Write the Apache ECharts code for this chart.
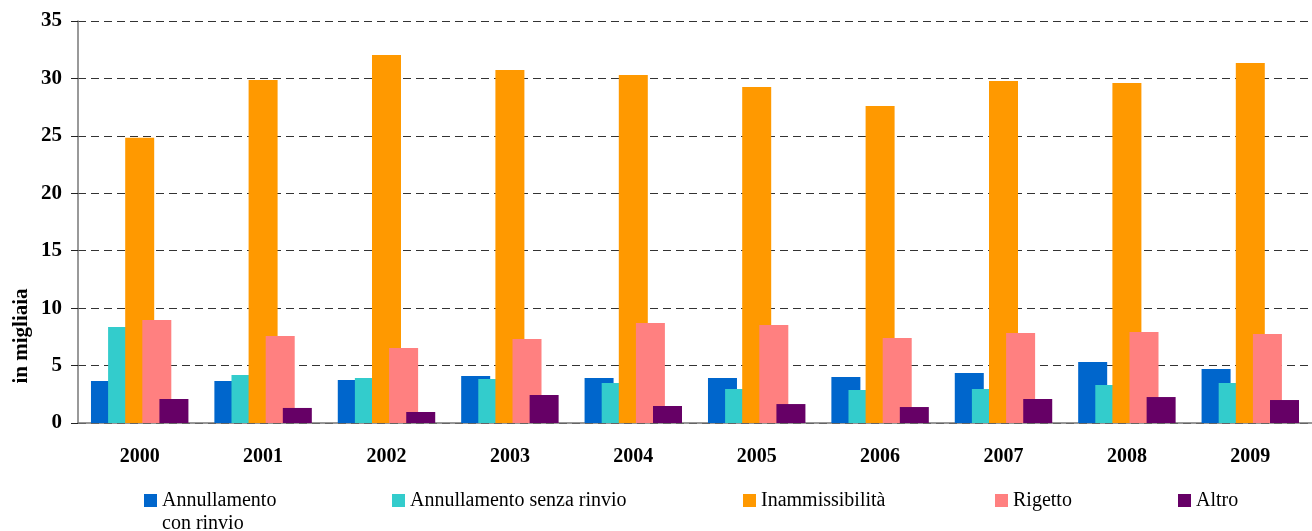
<!DOCTYPE html>
<html style="height: 100%">

<head>
    <meta charset="utf-8">
    <title>Esiti dei ricorsi</title>
</head>

<body style="height: 100%; margin: 0; background: #fff">
    <div id="container" style="width: 1312px; height: 531px"></div>
    <script src="https://cdn.jsdelivr.net/npm/echarts@6/dist/echarts.min.js"></script>
    <script type="text/javascript">
        // dati (in migliaia)
        var anni = ['2000', '2001', '2002', '2003', '2004', '2005', '2006', '2007', '2008', '2009'];
        var annullamentoConRinvio = [3.66, 3.66, 3.74, 4.09, 3.92, 3.92, 4.0, 4.35, 5.31, 4.70];
        var annullamentoSenzaRinvio = [8.36, 4.18, 3.92, 3.83, 3.48, 2.96, 2.87, 2.96, 3.31, 3.48];
        var inammissibilita = [24.84, 29.86, 32.04, 30.73, 30.30, 29.25, 27.60, 29.78, 29.60, 31.34];
        var rigetto = [8.97, 7.57, 6.53, 7.31, 8.71, 8.53, 7.40, 7.84, 7.92, 7.75];
        var altro = [2.09, 1.31, 0.96, 2.44, 1.48, 1.65, 1.39, 2.09, 2.26, 2.0];

        var nomi = ['Annullamento con rinvio', 'Annullamento senza rinvio', 'Inammissibilità', 'Rigetto', 'Altro'];
        var valori = [annullamentoConRinvio, annullamentoSenzaRinvio, inammissibilita, rigetto, altro];
        var colori = ['#0066CC', '#33CCCC', '#FF9900', '#FF8080', '#660066'];

        var serif = 'Liberation Serif';
        var legendLeft = [139, 387, 738, 990, 1173];

        var myChart = echarts.init(document.getElementById('container'));

        // una legenda per voce, come nell'originale (spaziatura irregolare)
        var legends = nomi.map(function (n, i) {
            var first = i === 0;
            return {
                data: [n],
                left: legendLeft[i],
                top: first ? 461 : 484,
                itemWidth: 13,
                itemHeight: 13,
                icon: 'rect',
                selectedMode: false,
                formatter: function (name) {
                    // riga vuota sopra così l'icona resta allineata alla prima riga
                    return name === 'Annullamento con rinvio' ? ' \nAnnullamento\ncon rinvio' : name;
                },
                textStyle: {
                    fontFamily: serif,
                    fontSize: 20,
                    color: '#000',
                    lineHeight: 23
                }
            };
        });

        var series = nomi.map(function (n, i) {
            return {
                name: n,
                type: 'bar',
                data: valori[i],
                barWidth: 29,
                barGap: '-41%',
                itemStyle: { color: colori[i] }
            };
        });

        var option = {
            animation: false,
            color: colori,
            textStyle: { fontFamily: serif },
            legend: legends,
            grid: {
                left: 78,
                top: 21,
                width: 1245,
                height: 402
            },
            xAxis: {
                type: 'category',
                data: anni,
                axisLine: { lineStyle: { color: '#777', width: 1.5 } },
                axisTick: { length: 6, lineStyle: { color: '#222' } },
                axisLabel: {
                    margin: 24,
                    fontFamily: serif,
                    fontWeight: 'bold',
                    fontSize: 20,
                    color: '#000'
                }
            },
            yAxis: {
                type: 'value',
                min: 0,
                max: 35,
                interval: 5,
                axisLine: { show: true, lineStyle: { color: '#777', width: 1.5 } },
                axisTick: { show: true, length: 7, lineStyle: { color: '#222' } },
                axisLabel: {
                    margin: 16,
                    fontFamily: serif,
                    fontWeight: 'bold',
                    fontSize: 21,
                    color: '#000'
                },
                splitLine: {
                    lineStyle: { type: [8, 5], color: '#333', width: 1 }
                }
            },
            graphic: [{
                type: 'text',
                x: 22,
                y: 336,
                rotation: Math.PI / 2,
                style: {
                    text: 'in migliaia',
                    fontFamily: serif,
                    fontWeight: 'bold',
                    fontSize: 21,
                    fill: '#000',
                    textAlign: 'center',
                    textVerticalAlign: 'middle'
                }
            }],
            series: series
        };
        myChart.setOption(option);
    </script>
</body>

</html>
